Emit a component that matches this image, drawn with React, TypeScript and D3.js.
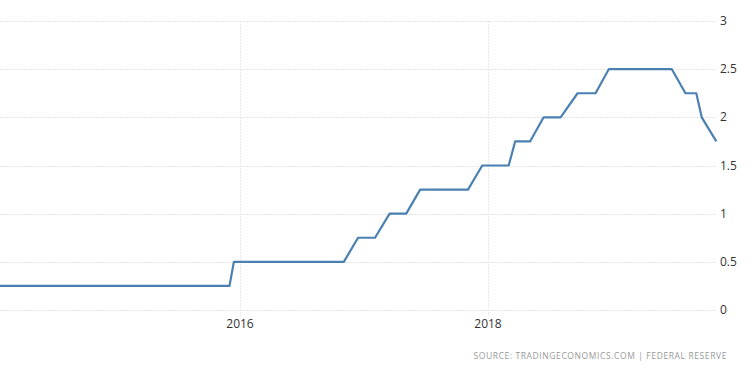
import React, { useEffect, useRef } from 'react';
import * as d3 from 'd3';

// fed funds rate, corners of the step line (date, value)
const rateDates = [
  '2014-01-01', '2015-12-01', '2015-12-14', '2016-11-02', '2016-12-14',
  '2017-02-02', '2017-03-17', '2017-05-05', '2017-06-15', '2017-11-03',
  '2017-12-15', '2018-03-03', '2018-03-22', '2018-05-05', '2018-06-14',
  '2018-08-03', '2018-09-22', '2018-11-14', '2018-12-23', '2019-06-27',
  '2019-08-06', '2019-09-07', '2019-09-23', '2019-11-05',
];
const rateValues = [
  0.25, 0.25, 0.5, 0.5, 0.75,
  0.75, 1, 1, 1.25, 1.25,
  1.5, 1.5, 1.75, 1.75, 2,
  2, 2.25, 2.25, 2.5, 2.5,
  2.25, 2.25, 2, 1.75,
];
const yTicks = [0, 0.5, 1, 1.5, 2, 2.5, 3];
const xTickYears = [2016, 2018];
const sourceLabel = 'SOURCE: TRADINGECONOMICS.COM | FEDERAL RESERVE';

const W = 750;
const H = 373;

const App = () => {
  const svgRef = useRef<SVGSVGElement>(null);

  useEffect(() => {
    const svg = d3.select(svgRef.current);
    svg.selectAll('*').remove();

    const data = rateDates.map((d, i) => ({ date: new Date(d + 'T00:00:00Z'), value: rateValues[i] }));

    const plotLeft = 0;
    const plotRight = 717;

    // 2016 sits at x=240 and 2018 at x=488
    const x = d3.scaleUtc()
      .domain([new Date(Date.UTC(2016, 0, 1)), new Date(Date.UTC(2018, 0, 1))])
      .range([240, 488]);
    const y = d3.scaleLinear().domain([0, 3]).range([310, 21]);

    const grid = svg.append('g');
    // horizontal gridlines
    grid.selectAll('line.h')
      .data(yTicks)
      .join('line')
      .attr('class', 'h')
      .attr('x1', plotLeft)
      .attr('x2', plotRight)
      .attr('y1', d => Math.round(y(d)) + 0.5)
      .attr('y2', d => Math.round(y(d)) + 0.5)
      .attr('stroke', '#e6e6e6')
      .attr('stroke-dasharray', '2,1');

    // vertical gridlines at the year ticks
    grid.selectAll('line.v')
      .data(xTickYears)
      .join('line')
      .attr('class', 'v')
      .attr('x1', d => Math.round(x(new Date(Date.UTC(d, 0, 1)))) + 0.5)
      .attr('x2', d => Math.round(x(new Date(Date.UTC(d, 0, 1)))) + 0.5)
      .attr('y1', y(3))
      .attr('y2', 316)
      .attr('stroke', '#e9e9e9')
      .attr('stroke-dasharray', '2,1');

    // y labels on the right
    svg.append('g')
      .selectAll('text')
      .data(yTicks)
      .join('text')
      .attr('x', 720)
      .attr('y', d => y(d) + 4)
      .attr('font-family', 'Open Sans, DejaVu Sans, sans-serif')
      .attr('font-size', 12)
      .attr('fill', '#333')
      .text(d => d3.format('~g')(d));

    // x labels
    svg.append('g')
      .selectAll('text')
      .data(xTickYears)
      .join('text')
      .attr('x', d => x(new Date(Date.UTC(d, 0, 1))))
      .attr('y', 328)
      .attr('text-anchor', 'middle')
      .attr('font-family', 'Open Sans, DejaVu Sans, sans-serif')
      .attr('font-size', 12)
      .attr('fill', '#333')
      .text(d => String(d));

    const line = d3.line<{ date: Date; value: number }>()
      .x(d => x(d.date))
      .y(d => y(d.value));

    svg.append('path')
      .datum(data)
      .attr('fill', 'none')
      .attr('stroke', '#4a80b2')
      .attr('stroke-width', 2.2)
      .attr('stroke-linejoin', 'round')
      .attr('d', line);

    svg.append('text')
      .attr('x', 727)
      .attr('y', 359)
      .attr('text-anchor', 'end')
      .attr('font-family', 'Open Sans, DejaVu Sans, sans-serif')
      .attr('font-size', 8.5)
      .attr('letter-spacing', 0.6)
      .attr('fill', '#999')
      .text(sourceLabel);
  }, []);

  return (
    <svg
      ref={svgRef}
      width={W}
      height={H}
      style={{ position: 'absolute', left: 0, top: 0, background: '#fff' }}
    />
  );
};

export default App;
